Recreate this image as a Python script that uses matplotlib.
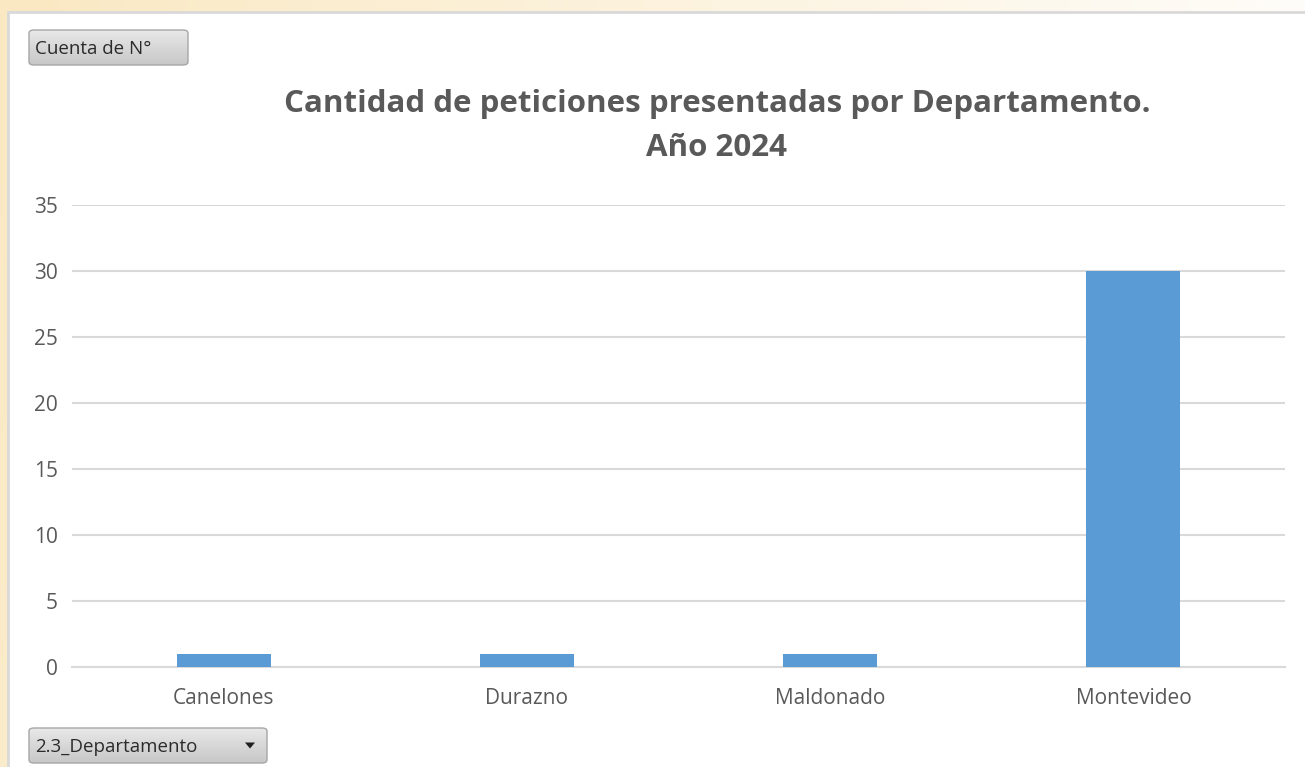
import numpy as np
import matplotlib.pyplot as plt
from matplotlib.patches import Rectangle, FancyBboxPatch, Polygon

# data
departamentos = ["Canelones", "Durazno", "Maldonado", "Montevideo"]
cuenta = [1, 1, 1, 30]
y_ticks = [0, 5, 10, 15, 20, 25, 30, 35]

plt.rcParams['font.family'] = ['Open Sans', 'DejaVu Sans']

W, H = 1305, 767
fig = plt.figure(figsize=(W / 100, H / 100), dpi=100)

# background: warm gradient behind the chart area
bg = fig.add_axes([0, 0, 1, 1], zorder=-2)
gx = np.linspace(0, 1, 300)
gy = np.linspace(0, 1, 200)
XX, YY = np.meshgrid(gx, gy)
t = np.clip(1.0 - 0.9 * XX - 0.15 * YY, 0, 1)
c0 = np.array([1.0, 1.0, 1.0])
c1 = np.array([0.98, 0.91, 0.76])
img = c0[None, None, :] * (1 - t[..., None]) + c1[None, None, :] * t[..., None]
bg.imshow(img, extent=[0, 1, 0, 1], aspect='auto', origin='upper')
bg.set_xlim(0, 1)
bg.set_ylim(0, 1)
bg.axis('off')

def fx(px):
    return px / W

def fy(py):
    return 1 - py / H

# chart area (white box with light border)
bg.add_patch(Rectangle((fx(8), fy(H + 5)), fx(W + 10) - fx(8), fy(12) - fy(H + 5),
                       facecolor='white', edgecolor='#D9D9D9', linewidth=2, zorder=2))

# buttons with a vertical gray gradient
grad = np.linspace(0.91, 0.78, 50)[:, None] * np.ones((1, 2))

def button(x0, y0, x1, y1, label, arrow=False):
    box = FancyBboxPatch((fx(x0), fy(y1)), fx(x1) - fx(x0), fy(y0) - fy(y1),
                         boxstyle="round,pad=0,rounding_size=0.004",
                         facecolor='none', edgecolor='#A6A6A6', linewidth=1, zorder=4)
    bg.add_patch(box)
    im = bg.imshow(grad, cmap='gray', vmin=0, vmax=1, aspect='auto', origin='upper',
                   extent=[fx(x0), fx(x1), fy(y1), fy(y0)], zorder=3)
    im.set_clip_path(box)
    bg.text(fx(x0 + 6), fy((y0 + y1) / 2 + 1), label, fontsize=13.5, color='#2B2B2B',
            ha='left', va='center', zorder=5)
    if arrow:
        ax_ = x1 - 17
        ay_ = (y0 + y1) / 2
        bg.add_patch(Polygon([(fx(ax_ - 5), fy(ay_ - 3)), (fx(ax_ + 5), fy(ay_ - 3)),
                              (fx(ax_), fy(ay_ + 3))], closed=True, facecolor='#1F1F1F',
                             edgecolor='none', zorder=5))

button(29, 30, 188, 65, "Cuenta de N°")
button(29, 728, 267, 763, "2.3_Departamento", arrow=True)
bg.set_xlim(0, 1)
bg.set_ylim(0, 1)

# title
fig.text(fx(717), fy(104), "Cantidad de peticiones presentadas por Departamento.",
         fontsize=22.5, fontweight='bold', color='#595959', ha='center', va='center')
fig.text(fx(717), fy(148), "Año 2024",
         fontsize=22.5, fontweight='bold', color='#595959', ha='center', va='center')

# plot area
ax = fig.add_axes([fx(72), fy(667), fx(1285) - fx(72), fy(205) - fy(667)])
ax.set_facecolor('none')
x = np.arange(len(departamentos))
ax.bar(x, cuenta, width=0.31, color='#5B9BD5', zorder=3)
ax.set_xlim(-0.5, len(departamentos) - 0.5)
ax.set_ylim(0, 35)
ax.set_yticks(y_ticks)
ax.set_xticks(x)
ax.set_xticklabels(departamentos)
ax.grid(axis='y', color='#D9D9D9', linewidth=1.5, zorder=0)
for s in ['top', 'right', 'left']:
    ax.spines[s].set_visible(False)
ax.spines['bottom'].set_color('#D9D9D9')
ax.spines['bottom'].set_linewidth(1.5)
ax.tick_params(axis='both', length=0, labelsize=15, colors='#595959')
ax.tick_params(axis='y', pad=10)
ax.tick_params(axis='x', pad=15)

fig.savefig("out.png", dpi=100)
